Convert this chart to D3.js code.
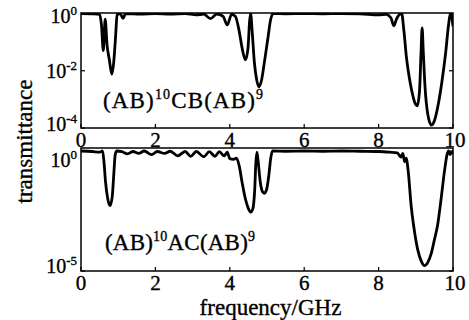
<!DOCTYPE html>
<html>
<head>
<meta charset="utf-8">
<script src="https://cdn.jsdelivr.net/npm/d3@7/dist/d3.min.js"></script>
<style>
  body { margin: 0; background: #fff; }
  text { font-family: "Liberation Serif", "Times New Roman", serif; fill: #000; stroke: #000; stroke-width: 0.35px; }
</style>
</head>
<body>
<div id="chart"></div>
<script>
// frequency (GHz) and log10(transmittance)
const freqCB = [0, 0.3, 0.5, 0.55, 0.6, 0.65, 0.7, 0.76, 0.83, 0.88, 0.93, 0.97, 1.05, 1.13, 1.2, 1.6, 2.0, 2.4, 2.8, 3.1, 3.3, 3.48, 3.65, 3.82, 3.93, 4.05, 4.15, 4.25, 4.33, 4.42, 4.49, 4.53, 4.56, 4.6, 4.66, 4.72, 4.78, 4.85, 4.93, 5.02, 5.1, 5.16, 5.5, 6, 6.5, 7, 7.5, 8.0, 8.2, 8.33, 8.41, 8.48, 8.55, 8.62, 8.68, 8.75, 8.82, 8.9, 8.97, 9.04, 9.1, 9.14, 9.17, 9.2, 9.25, 9.32, 9.42, 9.5, 9.6, 9.7, 9.8, 9.88, 9.93, 9.97, 10];
const logCB = [0, -0.01, -0.03, -0.4, -1.3, -0.2, -1.1, -1.6, -2.12, -1.7, -0.8, -0.05, 0, -0.17, 0, -0.02, 0, -0.02, 0, -0.05, -0.02, -0.18, -0.02, -0.1, -0.4, -0.03, -0.1, -0.6, -1.2, -1.62, -1.2, -0.3, 0, -0.6, -1.7, -2.3, -2.56, -2.35, -1.7, -0.9, -0.2, 0, -0.01, 0, -0.01, 0, -0.01, -0.05, -0.03, -0.15, -0.43, -0.2, -0.05, 0, -0.6, -1.55, -2.2, -2.75, -3.1, -3.22, -2.7, -1.4, -0.5, -1.3, -2.6, -3.5, -3.9, -3.75, -3.2, -2.4, -1.4, -0.4, 0, -0.15, -0.45];

const freqAC = [0, 0.3, 0.5, 0.58, 0.62, 0.66, 0.72, 0.78, 0.84, 0.88, 0.92, 0.96, 1.1, 1.25, 1.4, 1.55, 1.7, 1.9, 2.05, 2.25, 2.4, 2.6, 2.8, 2.95, 3.1, 3.3, 3.45, 3.6, 3.72, 3.85, 3.93, 4.0, 4.1, 4.18, 4.25, 4.33, 4.42, 4.5, 4.56, 4.62, 4.67, 4.7, 4.73, 4.76, 4.82, 4.88, 4.93, 4.99, 5.05, 5.1, 5.15, 5.5, 6, 6.5, 7, 7.5, 8, 8.3, 8.5, 8.6, 8.65, 8.7, 8.74, 8.8, 8.87, 8.95, 9.05, 9.15, 9.23, 9.32, 9.41, 9.5, 9.59, 9.68, 9.77, 9.84, 9.88, 9.92, 9.96, 10];
const logAC = [0, -0.02, -0.05, 0, -0.5, -1.3, -2.0, -2.28, -1.9, -1.0, -0.15, 0, -0.03, -0.12, -0.02, -0.1, 0, -0.15, -0.02, -0.1, -0.01, -0.2, -0.02, -0.22, -0.02, -0.24, -0.03, -0.22, -0.03, -0.2, -0.05, -0.32, -0.35, -0.3, -0.6, -1.3, -2.0, -2.4, -2.55, -2.4, -1.6, -0.5, -0.05, -0.4, -1.3, -1.7, -1.76, -1.6, -1.0, -0.3, 0, -0.01, 0, -0.01, 0, -0.01, -0.02, -0.05, -0.08, -0.25, -0.1, -0.45, -0.3, -0.9, -2.2, -3.2, -4.1, -4.6, -4.78, -4.65, -4.3, -3.7, -3.05, -2.0, -0.85, -0.15, 0, -0.15, -0.05, -0.1];

const xTicks = [0, 2, 4, 6, 8, 10];
const expTicksCB = [0, -2, -4];
const expTicksAC = [0, -5];
const labelCB = ["(AB)", "10", "CB(AB)", "9"];
const labelAC = ["(AB)", "10", "AC(AB)", "9"];

const width = 469, height = 320;
const svg = d3.select("#chart").append("svg")
  .attr("width", width).attr("height", height)
  .style("display", "block");
svg.append("rect").attr("width", width).attr("height", height).attr("fill", "#fff");

const x = d3.scaleLinear().domain([0, 10]).range([81, 453]);

const panels = [
  { freq: freqCB, logT: logCB, exps: expTicksCB, label: labelCB,
    y: d3.scaleLog().domain([1e-4, 1]).range([128, 13.5]),
    top: 13, bottom: 128, shift: [2.5, 0, -4], tickBase: 147, note: [103, 108, 160] },
  { freq: freqAC, logT: logAC, exps: expTicksAC, label: labelAC,
    y: d3.scaleLog().domain([1e-5, Math.pow(10, 0.125)]).range([271, 148]),
    top: 148, bottom: 271, shift: [9, -5], tickBase: 290, note: [105, 250, 150] }
];

panels.forEach((p, i) => {
  const g = svg.append("g");
  const [x0, x1] = x.range();

  g.append("clipPath").attr("id", "clip" + i)
    .append("rect").attr("x", x0).attr("y", p.top)
    .attr("width", x1 - x0).attr("height", p.bottom - p.top);

  const pts = p.freq.map((f, k) => [f, Math.pow(10, p.logT[k])]);
  const line = d3.line()
    .x(d => x(d[0]))
    .y(d => p.y(d[1]))
    .curve(d3.curveMonotoneX);

  g.append("path")
    .datum(pts)
    .attr("clip-path", `url(#clip${i})`)
    .attr("d", line)
    .attr("fill", "none")
    .attr("stroke", "#000")
    .attr("stroke-width", 2.8)
    .attr("stroke-linejoin", "round");

  // frame
  g.append("rect")
    .attr("x", x0).attr("y", p.top)
    .attr("width", x1 - x0).attr("height", p.bottom - p.top)
    .attr("fill", "none").attr("stroke", "#000").attr("stroke-width", 1.5);

  // x ticks (inward)
  g.selectAll(".xt").data(xTicks).enter().append("line")
    .attr("x1", d => x(d)).attr("x2", d => x(d))
    .attr("y1", p.bottom).attr("y2", p.bottom - 4)
    .attr("stroke", "#000").attr("stroke-width", 1.2);

  g.selectAll(".xl").data(xTicks).enter().append("text")
    .attr("x", d => x(d) + (d === 10 ? 2 : 0))
    .attr("y", p.tickBase)
    .attr("text-anchor", "middle")
    .attr("font-size", 21)
    .text(d => d);

  // y ticks, both sides, inward
  p.exps.forEach((e, k) => {
    const yy = p.y(Math.pow(10, e));
    g.append("line").attr("x1", x0).attr("x2", x0 + 4).attr("y1", yy).attr("y2", yy)
      .attr("stroke", "#000").attr("stroke-width", 1.2);
    g.append("line").attr("x1", x1).attr("x2", x1 - 4).attr("y1", yy).attr("y2", yy)
      .attr("stroke", "#000").attr("stroke-width", 1.2);
    const t = g.append("text")
      .attr("x", 77).attr("y", yy + p.shift[k] + 7)
      .attr("text-anchor", "end")
      .attr("font-size", 20);
    t.append("tspan").text("10");
    t.append("tspan").attr("dy", -8).attr("font-size", 13).text(e);
  });

  // structure annotation
  const n = g.append("text")
    .attr("x", p.note[0]).attr("y", p.note[1])
    .attr("font-size", 23)
    .attr("textLength", p.note[2])
    .attr("lengthAdjust", "spacing");
  n.append("tspan").text(p.label[0]);
  n.append("tspan").attr("dy", -9).attr("font-size", 14).text(p.label[1]);
  n.append("tspan").attr("dy", 9).text(p.label[2]);
  n.append("tspan").attr("dy", -9).attr("font-size", 14).text(p.label[3]);
});

svg.append("text")
  .attr("transform", "translate(32,141.5) rotate(-90)")
  .attr("text-anchor", "middle")
  .attr("font-size", 23)
  .text("transmittance");

svg.append("text")
  .attr("x", 270.5).attr("y", 315)
  .attr("text-anchor", "middle")
  .attr("font-size", 23)
  .text("frequency/GHz");
</script>
</body>
</html>
